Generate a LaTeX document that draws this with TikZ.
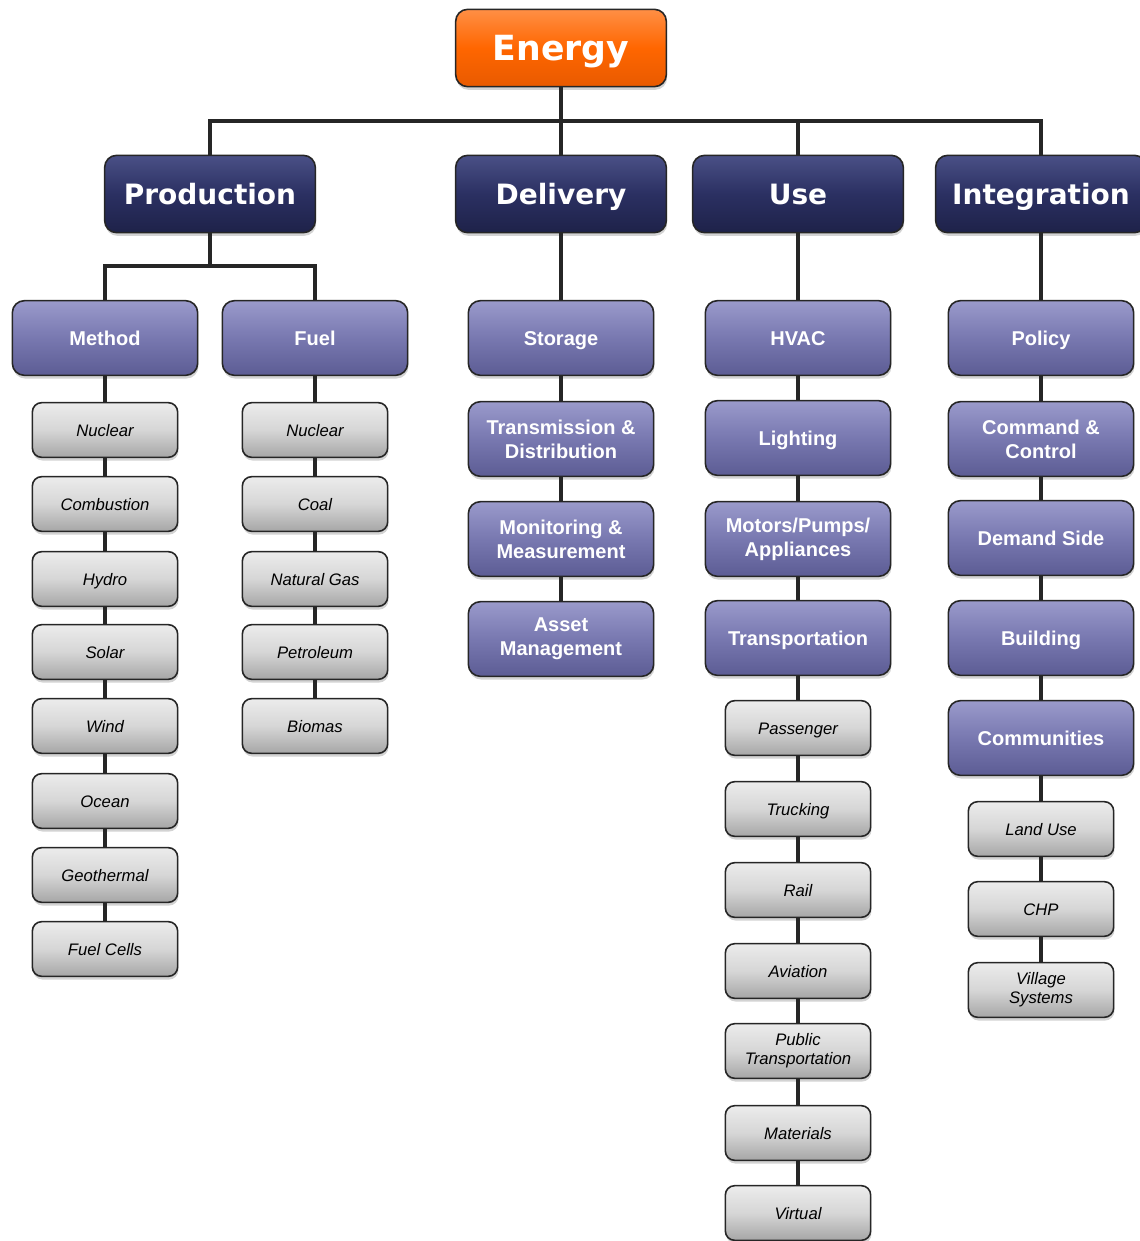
\documentclass[tikz,border=0pt]{standalone}
\usepackage{fontspec}
\setmainfont{Liberation Sans}
\newfontfamily\heavyfont{DejaVu Sans}
\usetikzlibrary{shadows}

\definecolor{orangetop}{HTML}{FF8F45}
\definecolor{orangemid}{HTML}{FF6600}
\definecolor{orangebot}{HTML}{E85A00}
\definecolor{navytop}{HTML}{4A5086}
\definecolor{navymid}{HTML}{2B3062}
\definecolor{navybot}{HTML}{1E2249}
\definecolor{lilactop}{HTML}{9A9ACB}
\definecolor{lilacmid}{HTML}{7878B0}
\definecolor{lilacbot}{HTML}{5C5C94}
\definecolor{greytop}{HTML}{ECECEC}
\definecolor{greymid}{HTML}{D6D6D6}
\definecolor{greybot}{HTML}{A6A6A6}
\definecolor{linkcol}{HTML}{262626}

\tikzset{
  box/.style={rounded corners=9pt, draw=linkcol, line width=1.2pt, align=center, inner sep=2pt,
    drop shadow={shadow xshift=0.6pt, shadow yshift=-2.4pt, opacity=0.35}},
  rootbox/.style={box, minimum width=158pt, minimum height=58pt,
    top color=orangetop, bottom color=orangebot, middle color=orangemid, text=white,
    font=\heavyfont\bfseries\fontsize{26}{30}\selectfont, text height=25.5pt, text depth=6.5pt},
  areabox/.style={box, minimum width=158pt, minimum height=58pt,
    top color=navytop, bottom color=navybot, middle color=navymid, text=white,
    font=\heavyfont\bfseries\fontsize{21}{25}\selectfont, text height=20.6pt, text depth=5.3pt},
  groupbox/.style={box, minimum width=139pt, minimum height=56pt,
    top color=lilactop, bottom color=lilacbot, middle color=lilacmid, text=white,
    font=\bfseries\fontsize{15}{18}\selectfont, text height=14.1pt, text depth=3.4pt},
  itembox/.style={box, rounded corners=7pt, minimum width=109pt, minimum height=41pt,
    top color=greytop, bottom color=greybot, middle color=greymid, text=black,
    font=\itshape\fontsize{12.5}{14.5}\selectfont, text height=11.8pt, text depth=2.8pt},
  twoline/.style={text height=, text depth=},
  link/.style={draw=linkcol, line width=2.5pt}
}

\begin{document}
\begin{tikzpicture}[x=0.75pt,y=-0.75pt]
  \useasboundingbox (0,0) rectangle (1139,1241);

  \node[rootbox] (energy) at (561,48) {Energy};

  \node[areabox] (production) at (210,194) {Production};
  \node[areabox] (delivery) at (561,194) {Delivery};
  \node[areabox] (use) at (798,194) {Use};
  \node[areabox] (integration) at (1041,194) {Integration};

  % production
  \node[groupbox] (method) at (105,338) {Method};
  \node[groupbox] (fuel) at (315,338) {Fuel};
  \node[itembox] (mnuclear) at (105,430) {Nuclear};
  \node[itembox] (combustion) at (105,504) {Combustion};
  \node[itembox] (hydro) at (105,579) {Hydro};
  \node[itembox] (solar) at (105,652) {Solar};
  \node[itembox] (wind) at (105,726) {Wind};
  \node[itembox] (ocean) at (105,801) {Ocean};
  \node[itembox] (geothermal) at (105,875) {Geothermal};
  \node[itembox] (fuelcells) at (105,949) {Fuel Cells};
  \node[itembox] (fnuclear) at (315,430) {Nuclear};
  \node[itembox] (coal) at (315,504) {Coal};
  \node[itembox] (gas) at (315,579) {Natural Gas};
  \node[itembox] (petroleum) at (315,652) {Petroleum};
  \node[itembox] (biomas) at (315,726) {Biomas};

  % delivery
  \node[groupbox] (storage) at (561,338) {Storage};
  \node[groupbox, twoline] (transmission) at (561,439) {Transmission \&\\Distribution};
  \node[groupbox, twoline] (monitoring) at (561,539) {Monitoring \&\\Measurement};
  \node[groupbox, twoline] (asset) at (561,639) {Asset\\Management};

  % use
  \node[groupbox] (hvac) at (798,338) {HVAC};
  \node[groupbox] (lighting) at (798,438) {Lighting};
  \node[groupbox, twoline] (motors) at (798,539) {Motors/Pumps/\\Appliances};
  \node[groupbox] (transport) at (798,638) {Transportation};
  \node[itembox] (passenger) at (798,728) {Passenger};
  \node[itembox] (trucking) at (798,809) {Trucking};
  \node[itembox] (rail) at (798,890) {Rail};
  \node[itembox] (aviation) at (798,971) {Aviation};
  \node[itembox, twoline] (public) at (798,1051) {Public\\Transportation};
  \node[itembox] (materials) at (798,1133) {Materials};
  \node[itembox] (virtual) at (798,1213) {Virtual};

  % integration
  \node[groupbox] (policy) at (1041,338) {Policy};
  \node[groupbox, twoline] (command) at (1041,439) {Command \&\\Control};
  \node[groupbox] (demand) at (1041,538) {Demand Side};
  \node[groupbox] (building) at (1041,638) {Building};
  \node[groupbox] (communities) at (1041,738) {Communities};
  \node[itembox] (landuse) at (1041,829) {Land Use};
  \node[itembox] (chp) at (1041,909) {CHP};
  \node[itembox, twoline] (village) at (1041,990) {Village\\Systems};

  \coordinate (bus) at (561,121);
  \coordinate (split) at (210,266);

  \begin{scope}[link]
    \draw (energy) -- (delivery);
    \draw (production.north) |- (bus) -| (integration.north);
    \draw (use.north) -- (use.north |- bus);
    \draw (production) -- (split);
    \draw (method.north) |- (split) -| (fuel.north);
    \draw (method) -- (mnuclear) -- (combustion) -- (hydro) -- (solar)
      -- (wind) -- (ocean) -- (geothermal) -- (fuelcells);
    \draw (fuel) -- (fnuclear) -- (coal) -- (gas) -- (petroleum) -- (biomas);
    \draw (delivery) -- (storage) -- (transmission) -- (monitoring) -- (asset);
    \draw (use) -- (hvac) -- (lighting) -- (motors) -- (transport) -- (passenger)
      -- (trucking) -- (rail) -- (aviation) -- (public) -- (materials) -- (virtual);
    \draw (integration) -- (policy) -- (command) -- (demand) -- (building)
      -- (communities) -- (landuse) -- (chp) -- (village);
  \end{scope}
\end{tikzpicture}
\end{document}
